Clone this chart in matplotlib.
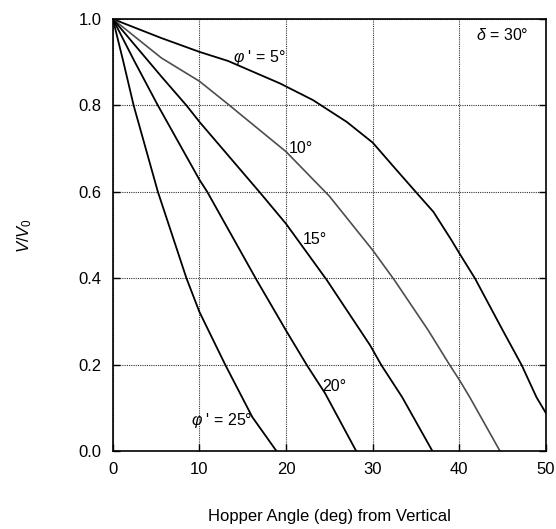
import matplotlib
matplotlib.use("Agg")
import matplotlib.pyplot as plt
import numpy as np

plt.rcParams['font.family'] = ['Liberation Sans', 'DejaVu Sans']
plt.rcParams['mathtext.fontset'] = 'custom'
plt.rcParams['mathtext.rm'] = 'Liberation Sans'
plt.rcParams['mathtext.it'] = 'Liberation Sans:italic'

# Data (hopper angle in deg, V/V0)
x_phi5 = [0, 5.6, 10, 13.3, 19.3, 23.1, 27.0, 30, 32.6, 35.45, 37.0, 39.1, 40, 41.8, 45, 47.2, 48.9, 50]
y_phi5 = [1.0, 0.956, 0.924, 0.903, 0.851, 0.8125, 0.762, 0.714, 0.654, 0.589, 0.554, 0.488, 0.458, 0.40, 0.28, 0.199, 0.125, 0.088]

x_phi10 = [0, 5.6, 10, 13.3, 15, 20, 25, 30, 32.5, 36.4, 38.9, 40, 41.2, 44.7]
y_phi10 = [1.0, 0.91, 0.856, 0.803, 0.775, 0.693, 0.59, 0.465, 0.396, 0.28, 0.199, 0.165, 0.125, 0.0]

x_phi15 = [0, 5.6, 8.5, 10, 17.0, 20, 24.7, 29.7, 31.0, 33.4, 36.9]
y_phi15 = [1.0, 0.867, 0.80, 0.762, 0.598, 0.526, 0.396, 0.245, 0.199, 0.125, 0.0]

x_phi20 = [0, 2.5, 5.2, 10, 10.9, 16.6, 20, 22.4, 24.5, 28.1]
y_phi20 = [1.0, 0.902, 0.80, 0.628, 0.60, 0.396, 0.279, 0.199, 0.134, 0.0]

x_phi25 = [0, 1.2, 2.4, 5.2, 8.5, 10, 13.0, 16.1, 18.9]
y_phi25 = [1.0, 0.902, 0.80, 0.60, 0.40, 0.322, 0.199, 0.079, 0.0]

x_ticks = [0, 10, 20, 30, 40, 50]
y_ticks = [0.0, 0.2, 0.4, 0.6, 0.8, 1.0]

fig = plt.figure(figsize=(5.56, 5.29), dpi=100)
ax = fig.add_axes([0.203, 0.147, 0.779, 0.817])

ax.plot(x_phi5, y_phi5, color='black', lw=1.3)
ax.plot(x_phi10, y_phi10, color='#4d4d4d', lw=1.2)
ax.plot(x_phi15, y_phi15, color='black', lw=1.3)
ax.plot(x_phi20, y_phi20, color='black', lw=1.3)
ax.plot(x_phi25, y_phi25, color='black', lw=1.3)

ax.set_xlim(0, 50)
ax.set_ylim(0, 1.0)
ax.set_xticks(x_ticks)
ax.set_yticks(y_ticks)
ax.set_xticklabels([str(v) for v in x_ticks])
ax.set_yticklabels([f"{v:.1f}" for v in y_ticks])
ax.tick_params(direction='in', length=5, width=1.0, labelsize=12,
               right=True, top=False)
ax.tick_params(axis='x', pad=7.5)
ax.tick_params(axis='y', pad=8)
ax.grid(True, linestyle=(0, (1, 1)), color='#333333', lw=0.8)
for s in ax.spines.values():
    s.set_linewidth(1.2)

fs = 11.5
ax.text(16.9, 0.912, "$\\it{φ}$ ' = 5°", fontsize=fs, ha='center', va='center')
ax.text(20.3, 0.70, "10°", fontsize=fs, ha='left', va='center')
ax.text(21.9, 0.49, "15°", fontsize=fs, ha='left', va='center')
ax.text(24.2, 0.150, "20°", fontsize=fs, ha='left', va='center')
ax.text(12.55, 0.072, "$\\it{φ}$ ' = 25°", fontsize=fs, ha='center', va='center')
ax.text(45.0, 0.962, "$\\it{δ}$ = 30°", fontsize=fs, ha='center', va='center')

fig.text(329.5 / 556, 1 - 517 / 529, "Hopper Angle (deg) from Vertical",
         fontsize=12, ha='center', va='center')
fig.text(25 / 556, 1 - 236 / 529, "$\\it{V/V}_{0}$", fontsize=12,
         rotation=90, ha='center', va='center')

fig.savefig("out.png", dpi=100)
